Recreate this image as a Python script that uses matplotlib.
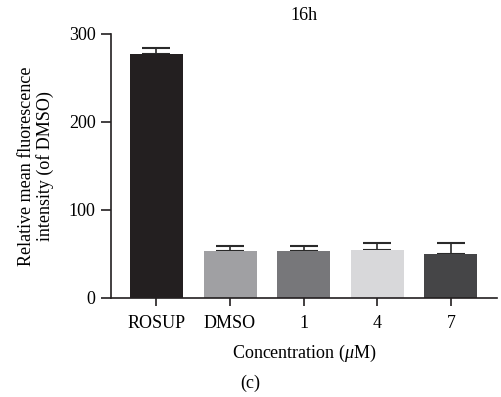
import matplotlib
matplotlib.use("Agg")
import matplotlib.pyplot as plt

categories = ["ROSUP", "DMSO", "1", "4", "7"]
values = [277, 53, 53, 55, 50]
errors = [7, 6.5, 6.5, 7, 13]
colors = ["#231f20", "#a0a0a3", "#77777a", "#d8d8da", "#454547"]
yticks = [0, 100, 200, 300]

plt.rcParams['font.family'] = ['Liberation Serif', 'DejaVu Serif']
plt.rcParams['mathtext.fontset'] = 'custom'
plt.rcParams['mathtext.rm'] = 'Liberation Serif'
plt.rcParams['mathtext.it'] = 'Liberation Serif:italic'

fig = plt.figure(figsize=(5.01, 3.97), dpi=100)
ax = fig.add_axes([111/501, 1-298/397, (497-111)/501, (298-34)/397])

x = list(range(len(categories)))
ax.bar(x, values, width=0.72, color=colors, zorder=2)
ax.errorbar(x, values, yerr=[[0]*len(errors), errors], fmt='none',
            ecolor='#2a2a2a', elinewidth=1.2, capsize=10, capthick=1.5, zorder=1)

ax.set_xlim(-0.617, 4.625)
ax.set_ylim(0, 300)
ax.set_yticks(yticks)
ax.set_xticks(x)
ax.set_xticklabels(categories)
ax.spines['top'].set_visible(False)
ax.spines['right'].set_visible(False)
for s in ['left', 'bottom']:
    ax.spines[s].set_linewidth(1.2)
    ax.spines[s].set_color('#231f20')
ax.tick_params(axis='y', length=7, width=1.2, labelsize=13, pad=4, color='#231f20')
ax.tick_params(axis='x', length=6, width=1.2, labelsize=13, pad=6, color='#231f20')

ax.set_ylabel("Relative mean fluorescence\nintensity (of DMSO)", fontsize=13, labelpad=11,
              linespacing=1.05)
ax.set_xlabel("Concentration ($\\mu$M)", fontsize=13, labelpad=8)
ax.set_title("16h", fontsize=13, pad=10)
fig.text(0.5, 1-383/397, "(c)", ha='center', va='center', fontsize=13)

fig.savefig("out.png", dpi=100)
